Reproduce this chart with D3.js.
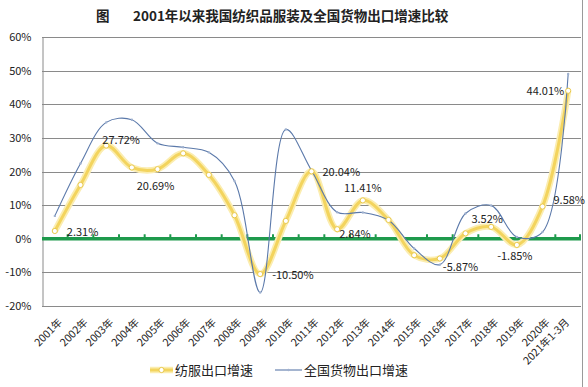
<!DOCTYPE html>
<html>
<head>
<meta charset="utf-8">
<script src="https://cdn.jsdelivr.net/npm/d3@7"></script>
<style>
    body { margin: 0; background: #fff; }
    #chart { width: 588px; height: 387px; }
    text { font-family: "Noto Sans CJK SC", "Noto Sans", sans-serif; fill: #222; }
</style>
</head>
<body>
<div id="chart"></div>
<script>
// categories
const years = ["2001年", "2002年", "2003年", "2004年", "2005年", "2006年", "2007年",
    "2008年", "2009年", "2010年", "2011年", "2012年", "2013年", "2014年", "2015年",
    "2016年", "2017年", "2018年", "2019年", "2020年", "2021年1-3月"];

// 纺服出口增速 (%)
const textile = [2.31, 16.0, 27.72, 21.2, 20.69, 25.4, 19.0, 7.0, -10.50, 5.3, 20.04,
    2.84, 11.41, 5.6, -4.9, -5.87, 1.6, 3.52, -1.85, 9.58, 44.01];

// 全国货物出口增速 (%)
const national = [6.8, 22.4, 34.6, 35.4, 28.4, 27.2, 25.7, 17.2, -16.0, 32.5, 20.3,
    7.9, 7.8, 5.5, -2.9, -7.7, 7.5, 9.9, 0.5, 2.0, 49.0];

// which textile points carry a value label
const labelled = [0, 2, 4, 8, 10, 11, 12, 15, 17, 18, 19, 20];

const yTicks = [-20, -10, 0, 10, 20, 30, 40, 50, 60];

const width = 588, height = 387;
const margin = { top: 37, right: 7, bottom: 81, left: 42 };

const yellow = "#F3D45E";
const blue = "#5B79AA";
const green = "#1E9A4C";
const gridColor = "#8A8A8A";

function drawChart() {
    const svg = d3.select("#chart")
        .append("svg")
        .attr("width", width)
        .attr("height", height);

    const x = d3.scaleBand()
        .domain(years)
        .range([margin.left, width - margin.right]);

    const y = d3.scaleLinear()
        .domain([-20, 60])
        .range([height - margin.bottom, margin.top]);

    const cx = d => x(d) + x.bandwidth() / 2;

    // title
    svg.append("text")
        .attr("x", 96).attr("y", 21)
        .attr("font-size", 13.5).attr("font-weight", "bold")
        .text("图");
    svg.append("text")
        .attr("x", 133).attr("y", 21)
        .attr("font-size", 13.5).attr("font-weight", "bold")
        .text("2001年以来我国纺织品服装及全国货物出口增速比较");

    // right frame
    svg.append("line")
        .attr("x1", width - 5.5).attr("x2", width - 5.5)
        .attr("y1", 0).attr("y2", height)
        .attr("stroke", "#9a9a9a");

    // gridlines
    svg.append("g")
        .selectAll("line")
        .data(yTicks.filter(t => t !== 0))
        .enter()
        .append("line")
        .attr("x1", margin.left).attr("x2", width - margin.right)
        .attr("y1", d => Math.round(y(d)) + 0.5)
        .attr("y2", d => Math.round(y(d)) + 0.5)
        .attr("stroke", gridColor);

    // y axis
    const yAxis = svg.append("g")
        .attr("transform", `translate(${margin.left + 0.5},0)`)
        .call(d3.axisLeft(y).tickValues(yTicks).tickSize(0).tickPadding(11)
            .tickFormat(d => d + "%"));
    yAxis.select(".domain").attr("stroke", gridColor);
    yAxis.selectAll("text").attr("font-size", 11).attr("fill", "#222")
        .attr("font-family", "'Noto Sans CJK SC', sans-serif");

    // zero line with ticks at category boundaries
    const boundaries = years.map(d => x(d)).slice(1);
    svg.append("line")
        .attr("x1", margin.left).attr("x2", width - margin.right)
        .attr("y1", y(0)).attr("y2", y(0))
        .attr("stroke", green).attr("stroke-width", 3.6);
    svg.append("g")
        .selectAll("line")
        .data(boundaries.concat([width - margin.right - 1]))
        .enter()
        .append("line")
        .attr("x1", d => d).attr("x2", d => d)
        .attr("y1", y(0) - 4.5).attr("y2", y(0))
        .attr("stroke", green).attr("stroke-width", 2);

    // x labels
    svg.append("g")
        .selectAll("text")
        .data(years)
        .enter()
        .append("text")
        .attr("font-size", 10.5)
        .attr("text-anchor", "end")
        .attr("transform", d => `translate(${Math.min(cx(d) + 8, 570)},${y(-20) + 17}) rotate(-45)`)
        .text(d => d);

    const line = d3.line()
        .x((d, i) => cx(years[i]))
        .y(d => y(d))
        .curve(d3.curveCatmullRom.alpha(0.5));

    // 纺服出口增速: thick yellow with soft halo
    svg.append("path")
        .datum(textile)
        .attr("d", line)
        .attr("fill", "none")
        .attr("stroke", "#FBEDB0")
        .attr("stroke-width", 6.5);
    svg.append("path")
        .datum(textile)
        .attr("d", line)
        .attr("fill", "none")
        .attr("stroke", yellow)
        .attr("stroke-width", 3);

    // 全国货物出口增速: thin blue
    svg.append("path")
        .datum(national)
        .attr("d", line)
        .attr("fill", "none")
        .attr("stroke", blue)
        .attr("stroke-width", 1.1);

    svg.append("g")
        .selectAll("circle")
        .data(national)
        .enter()
        .append("circle")
        .attr("cx", (d, i) => cx(years[i]))
        .attr("cy", d => y(d))
        .attr("r", 1.2)
        .attr("fill", "#9fb1cf");

    svg.append("g")
        .selectAll("circle")
        .data(textile)
        .enter()
        .append("circle")
        .attr("cx", (d, i) => cx(years[i]))
        .attr("cy", d => y(d))
        .attr("r", 2.6)
        .attr("fill", "#fff")
        .attr("stroke", "#E9C84A")
        .attr("stroke-width", 1);

    // value labels, nudged like in the original
    const nudge = {
        0: [12, 1, "start"], 2: [15, -6, "middle"], 4: [-2, 17, "middle"],
        8: [12, 1, "start"], 10: [11, 1, "start"], 11: [2, 5, "start"],
        12: [0, -12, "middle"], 15: [3, 9, "start"], 17: [-4, -8, "middle"],
        18: [-2, 11, "middle"], 19: [11, -6, "start"], 20: [-4, 0, "end"]
    };
    svg.append("g")
        .selectAll("text")
        .data(labelled)
        .enter()
        .append("text")
        .attr("font-size", 11)
        .attr("x", i => cx(years[i]) + nudge[i][0])
        .attr("y", i => y(textile[i]) + nudge[i][1])
        .attr("dy", "0.36em")
        .attr("text-anchor", i => nudge[i][2])
        .text(i => textile[i].toFixed(2) + "%");

    // legend
    const legend = svg.append("g").attr("transform", "translate(0,370)");
    legend.append("line")
        .attr("x1", 150).attr("x2", 173)
        .attr("stroke", "#FBEDB0").attr("stroke-width", 6.5);
    legend.append("line")
        .attr("x1", 150).attr("x2", 173)
        .attr("stroke", yellow).attr("stroke-width", 3);
    legend.append("circle")
        .attr("cx", 161.5).attr("r", 2.6)
        .attr("fill", "#fff").attr("stroke", "#E9C84A");
    legend.append("text")
        .attr("x", 175).attr("dy", "0.36em")
        .attr("font-size", 13)
        .text("纺服出口增速");

    legend.append("line")
        .attr("x1", 275).attr("x2", 302)
        .attr("stroke", blue).attr("stroke-width", 1.1);
    legend.append("circle")
        .attr("cx", 288.5).attr("r", 1.2)
        .attr("fill", "#9fb1cf");
    legend.append("text")
        .attr("x", 304).attr("dy", "0.36em")
        .attr("font-size", 13)
        .text("全国货物出口增速");
}

document.addEventListener('DOMContentLoaded', () => {
    drawChart();
});
</script>
</body>
</html>
